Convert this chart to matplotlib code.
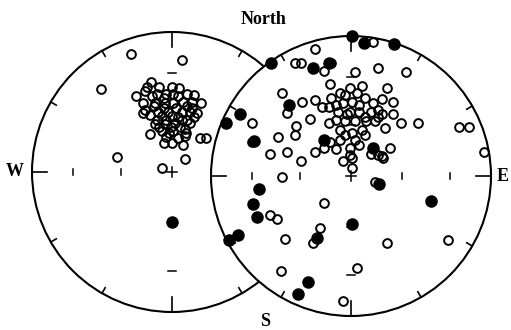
import numpy as np
import matplotlib
matplotlib.use("Agg")
import matplotlib.pyplot as plt
from matplotlib.patches import Circle

# point positions in each net, east / north in units of the net radius
left_open_x = [-0.29, 0.07, -0.51, -0.26, -0.39, -0.16, 0.20, 0.24, 0.09, 0.08, -0.06, 0.00, -0.07,
               -0.15, -0.18, -0.09, 0.00, -0.11, -0.04, 0.01, 0.11, -0.21, -0.12, -0.05, 0.01, 0.08,
               0.14, 0.21, -0.19, -0.21, -0.10, -0.03, 0.07, 0.13, 0.18, -0.11, -0.04, 0.04, 0.11,
               -0.09, -0.01, 0.06, 0.13, -0.07, 0.01, 0.09,
               -0.14, -0.06, 0.04, 0.16, -0.16, -0.06, 0.03, 0.11, -0.07, 0.00, 0.07, 0.16, -0.12,
               -0.05, 0.02, 0.09, -0.04, 0.04, -0.19, 0.05, 0.14, -0.02, 0.10, -0.13]
left_open_y = [0.84, 0.80, 0.59, 0.54, 0.11, 0.27, 0.24, 0.24, 0.09, 0.19, 0.21, 0.21, 0.03,
               0.64, 0.61, 0.61, 0.61, 0.56, 0.56, 0.56, 0.56, 0.49, 0.49, 0.49, 0.49, 0.50,
               0.50, 0.49, 0.44, 0.42, 0.43, 0.43, 0.43, 0.43, 0.42, 0.37, 0.37, 0.39, 0.37,
               0.32, 0.32, 0.32, 0.35, 0.29, 0.29, 0.26,
               0.54, 0.53, 0.54, 0.55, 0.41, 0.46, 0.46, 0.47, 0.40, 0.40, 0.37, 0.39, 0.34,
               0.34, 0.35, 0.31, 0.25, 0.24, 0.58, 0.60, 0.46, 0.28, 0.28, 0.47]
left_fill_x = [0.00]
left_fill_y = [-0.36]

right_open_x = [-0.26, 0.16, -0.40, -0.36, -0.19, -0.14, 0.03, 0.19, 0.39, -0.49, -0.15, 0.26,
                -0.35, -0.26, -0.46, -0.29, -0.39, -0.40, -0.52, -0.58, -0.46, -0.36, -0.26,
                -0.19, -0.06, -0.01, 0.14, 0.22, 0.28, 0.48, 0.36, 0.30, 0.22, 0.30, 0.77, 0.84,
                0.95,
                -0.21, -0.14, -0.08, -0.01, 0.08, -0.06, 0.01, 0.10, 0.16, -0.16, -0.09, -0.01,
                0.06, 0.14, 0.19, -0.11, -0.04, 0.03, 0.11, -0.16, -0.08, 0.01, 0.08, 0.03, 0.10,
                0.01, -0.01, 0.19, 0.19, 0.22, 0.17, 0.24, 0.23,
                -0.04, 0.04, -0.11, 0.06, -0.03, 0.10, -0.08, -0.04, -0.11, -0.15, 0.06,
                -0.49, 0.01, 0.17, -0.19, -0.58, -0.53, -0.22, -0.27, -0.47, 0.26, 0.69, -0.50,
                0.04, -0.06, -0.71, -0.71]
right_open_y = [0.91, 0.96, 0.81, 0.81, 0.75, 0.81, 0.74, 0.77, 0.74, 0.59, 0.66, 0.63,
                0.53, 0.54, 0.45, 0.41, 0.36, 0.29, 0.28, 0.16, 0.17, 0.11, 0.17,
                0.20, 0.11, 0.15, 0.16, 0.14, 0.20, 0.38, 0.38, 0.44, 0.55, 0.53, 0.35, 0.35,
                0.17,
                0.49, 0.56, 0.59, 0.63, 0.64, 0.52, 0.53, 0.56, 0.52, 0.49, 0.46, 0.46,
                0.46, 0.46, 0.42, 0.40, 0.39, 0.39, 0.39, 0.38, 0.33, 0.31, 0.33, 0.26, 0.29,
                0.13, 0.20, 0.15, 0.47, 0.44, 0.39, 0.34, 0.13,
                0.58, 0.59, 0.51, 0.51, 0.44, 0.42, 0.26, 0.29, 0.19, 0.24, 0.22,
                -0.01, 0.06, -0.04, -0.19, -0.28, -0.31, -0.37, -0.48, -0.45, -0.48, -0.46, -0.68,
                -0.66, -0.89, 0.38, 0.24]
right_fill_x = [0.01, 0.09, 0.31, -0.57, -0.27, -0.16, -0.44, -0.89, -0.79, -0.69, -0.19, 0.16,
                -0.66, -0.70, -0.67, -0.81, -0.87, 0.20, 0.57, 0.01, -0.24, -0.31, -0.38]
right_fill_y = [1.00, 0.95, 0.94, 0.81, 0.77, 0.81, 0.51, 0.38, 0.44, 0.25, 0.26, 0.20,
                -0.09, -0.20, -0.29, -0.42, -0.46, -0.06, -0.18, -0.34, -0.44, -0.76, -0.84]

tick_plunges = [30, 60]


def draw_net(ax, cx, cy, z):
    """
    equal-area net outline with rim and axis ticks
    """
    ax.add_patch(Circle((cx, cy), 1.0, facecolor='white', edgecolor='black', lw=1.5, zorder=z))
    # rim ticks every 30 deg, longer at the cardinal points
    for a in range(0, 360, 30):
        t = np.radians(a)
        L = 0.11 if a % 90 == 0 else 0.045
        ax.plot([cx + np.sin(t), cx + (1 - L) * np.sin(t)],
                [cy + np.cos(t), cy + (1 - L) * np.cos(t)],
                color='black', lw=1.2, zorder=z + 0.1)
    # ticks on the axes at 30 and 60 deg plunge
    for p in tick_plunges:
        r = np.sqrt(2) * np.sin(np.radians(90 - p) / 2)
        for s in [-1, 1]:
            ax.plot([cx + s * r, cx + s * r], [cy - 0.022, cy + 0.022],
                    color='black', lw=1.1, zorder=z + 0.1)
            ax.plot([cx - 0.03, cx + 0.03], [cy + s * r, cy + s * r],
                    color='black', lw=1.1, zorder=z + 0.1)
    # centre cross
    ax.plot([cx - 0.035, cx + 0.035], [cy, cy], color='black', lw=1.1, zorder=z + 0.1)
    ax.plot([cx, cx], [cy - 0.035, cy + 0.035], color='black', lw=1.1, zorder=z + 0.1)


def draw_points(ax, cx, cy, ox, oy, fx, fy, z):
    ax.plot(cx + np.array(ox), cy + np.array(oy), 'o', ms=6.3, mfc='none', mec='black',
            mew=1.4, ls='none', zorder=z + 0.5)
    ax.plot(cx + np.array(fx), cy + np.array(fy), 'o', ms=8, mfc='black', mec='black',
            ls='none', zorder=z + 0.6)


fig = plt.figure(figsize=(5.11, 3.30), dpi=100)
ax = fig.add_axes([0, 0, 1, 1])
ax.set_xlim(-1.2286, 2.4214)
ax.set_ylim(-1.1286, 1.2286)
ax.set_aspect('equal')
ax.axis('off')

# left net, then the right net on top of it
draw_net(ax, 0.0, 0.0, 1)
draw_points(ax, 0.0, 0.0, left_open_x, left_open_y, left_fill_x, left_fill_y, 1)
rcx, rcy = 1.2786, -0.0286
draw_net(ax, rcx, rcy, 3)
draw_points(ax, rcx, rcy, right_open_x, right_open_y, right_fill_x, right_fill_y, 3)

font = dict(family='Liberation Serif', weight='bold', fontsize=13, color='black')
ax.text(0.657, 1.086, 'North', ha='center', va='center', **font)
ax.text(-1.12, 0.0, 'W', ha='center', va='center', **font)
ax.text(2.364, -0.029, 'E', ha='center', va='center', **font)
ax.text(0.664, -1.07, 'S', ha='center', va='center', **font)

fig.savefig('out.png', dpi=100)
